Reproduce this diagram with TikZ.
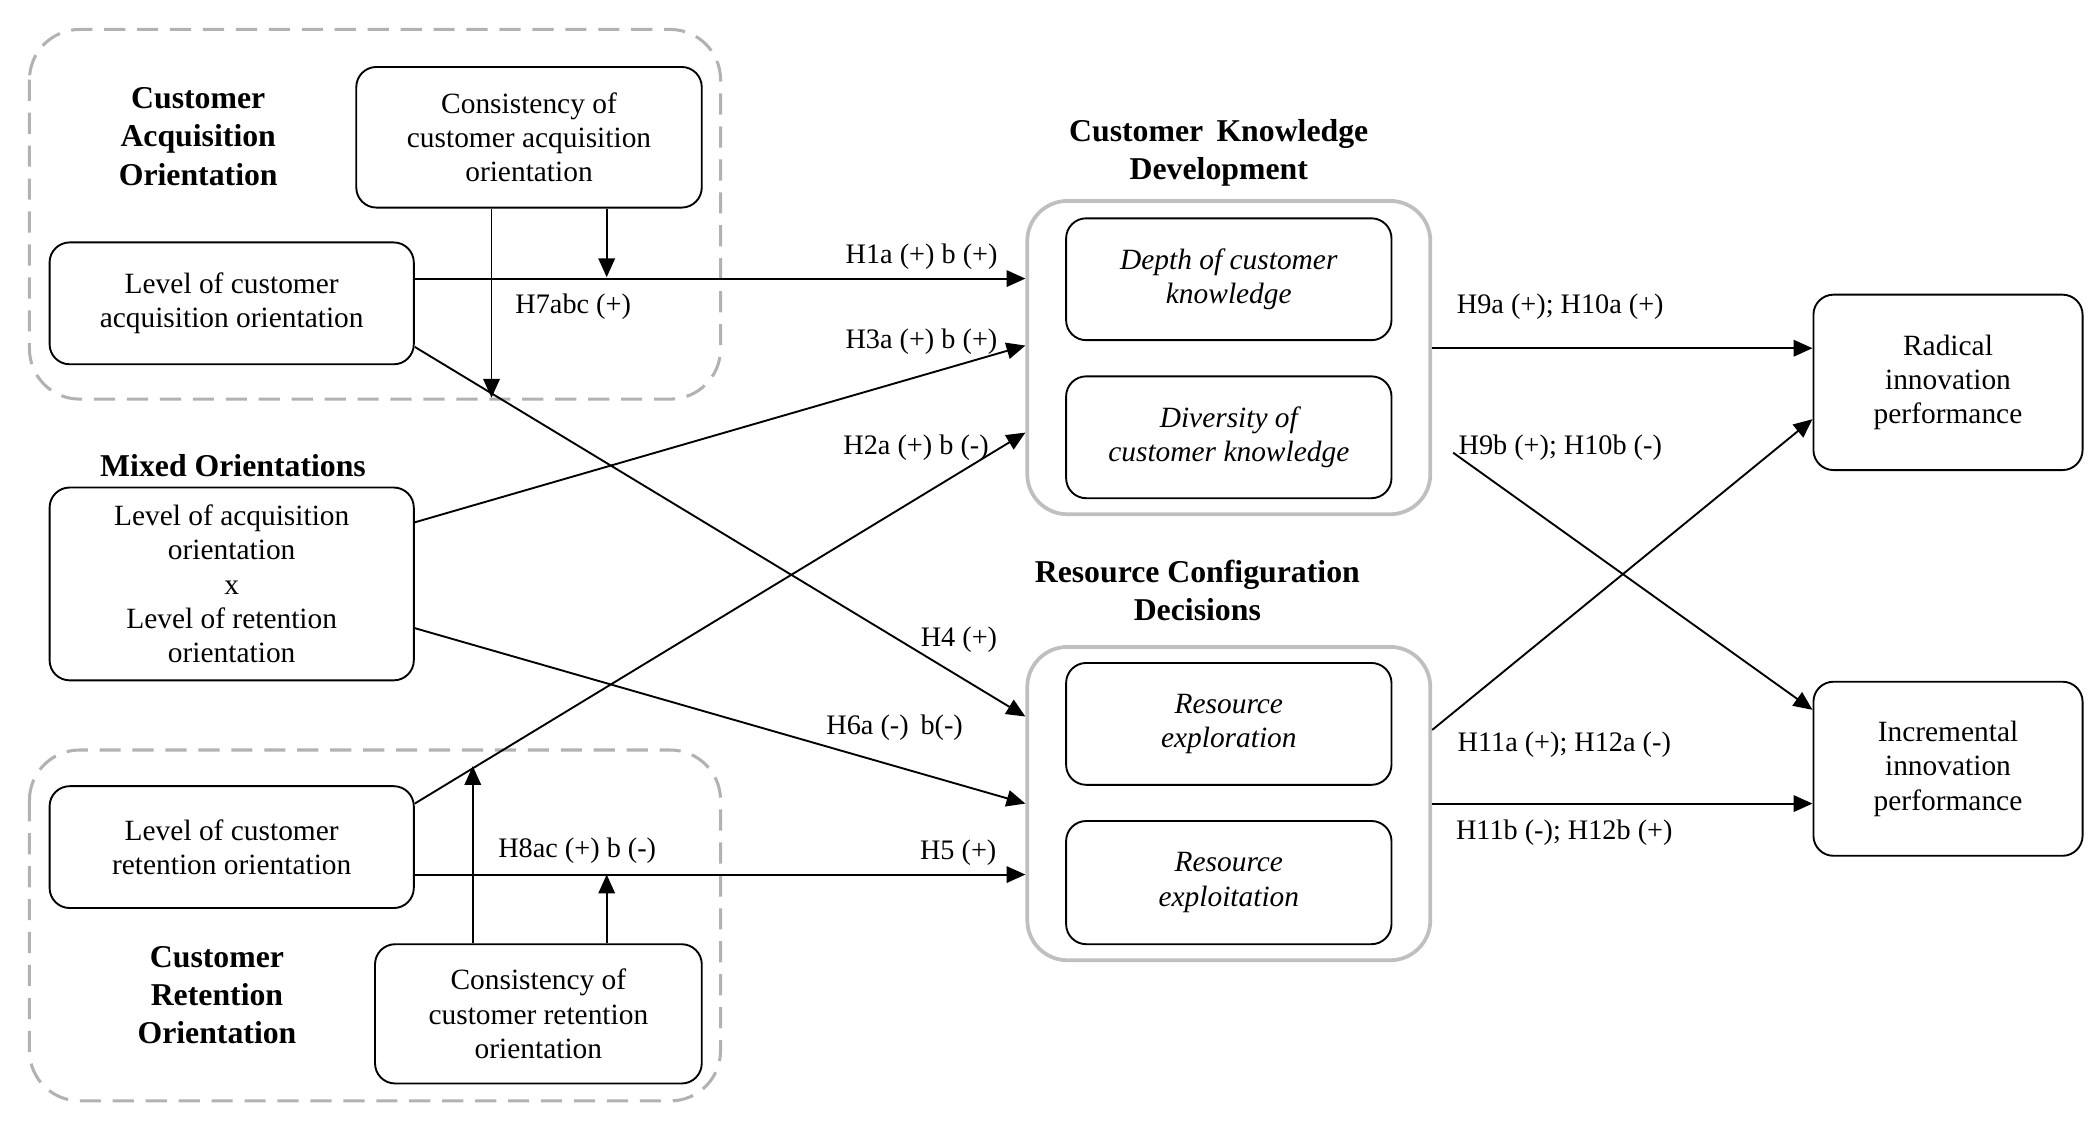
\documentclass[tikz,border=0pt]{standalone}
\usepackage{fontspec}
\setmainfont{Liberation Serif}
\usetikzlibrary{arrows.meta}
\begin{document}
\begin{tikzpicture}[x=0.02cm,y=-0.02cm,
  box/.style={draw,thick,rounded corners=0.3cm,align=center,inner sep=0pt,font=\fontsize{12.5}{14.6}\selectfont},
  outer/.style={draw=black!25,line width=1.6pt,rounded corners=0.6cm,inner sep=0pt},
  grp/.style={draw=black!30,line width=1.3pt,dash pattern=on 9pt off 5pt,rounded corners=0.75cm},
  ttl/.style={font=\fontsize{13.5}{16.2}\selectfont\bfseries,align=center},
  lab/.style={font=\fontsize{12}{14}\selectfont},
  arr/.style={thick,-{Triangle[length=8pt,width=7pt]}}]
\useasboundingbox (0,0) rectangle (1568,845);
\draw[grp] (22,22) rectangle (538,298);
\draw[grp] (22,560) rectangle (538,822);
\node[ttl] (tcao) at (148,102) {Customer\\Acquisition\\Orientation};
\node[ttl] (tmix) at (174,348) {Mixed Orientations};
\node[ttl] (tcro) at (162,743) {Customer\\Retention\\Orientation};
\node[ttl] (tckd) at (910,114) {Customer\, Knowledge\\Development};
\node[ttl] (trcd) at (894,441) {Resource Configuration\\Decisions};
\node[box,minimum width=5.16cm,minimum height=2.1cm] (cao) at (395,102.5) {Consistency of\\customer acquisition\\orientation};
\node[box,minimum width=5.44cm,minimum height=1.82cm] (la) at (173,226.5) {Level of customer\\acquisition orientation};
\node[box,minimum width=5.44cm,minimum height=2.88cm] (mix) at (173,436) {Level of acquisition\\orientation\\x\\Level of retention\\orientation};
\node[box,minimum width=5.44cm,minimum height=1.82cm] (lr) at (173,632.5) {Level of customer\\retention orientation};
\node[box,minimum width=4.88cm,minimum height=2.08cm] (crt) at (402,757) {Consistency of\\customer retention\\orientation};
\node[outer,minimum width=6.02cm,minimum height=4.68cm] (ckd) at (917.5,267) {};
\node[outer,minimum width=6.02cm,minimum height=4.68cm] (rcd) at (917.5,600) {};
\node[box,minimum width=4.86cm,minimum height=1.82cm,font=\fontsize{12.5}{14.6}\selectfont\itshape] (depth) at (917.5,208.5) {Depth of customer\\knowledge};
\node[box,minimum width=4.86cm,minimum height=1.82cm,font=\fontsize{12.5}{14.6}\selectfont\itshape] (div) at (917.5,326.5) {Diversity of\\customer knowledge};
\node[box,minimum width=4.86cm,minimum height=1.82cm,font=\fontsize{12.5}{14.6}\selectfont\itshape] (rexp) at (917.5,540.5) {Resource\\exploration};
\node[box,minimum width=4.86cm,minimum height=1.84cm,font=\fontsize{12.5}{14.6}\selectfont\itshape] (rexl) at (917.5,659) {Resource\\exploitation};
\node[box,minimum width=4.02cm,minimum height=2.62cm] (rad) at (1454.5,285.5) {Radical\\innovation\\performance};
\node[box,minimum width=4.02cm,minimum height=2.6cm] (inc) at (1454.5,574) {Incremental\\innovation\\performance};
% arrows
\coordinate (m7) at (367,297);
\coordinate (m8) at (353,572);
\draw[arr] (la.east |- 0,208) -- (ckd.west |- 0,208) node[lab,pos=0.83,above] {H1a (+) b (+)};
\draw[arr] (cao.south -| m7) -- (m7);
\draw[arr] (cao.south -| 453,0) -- (453,207);
\node[lab] at (428,229) {H7abc (+)};
\draw[arr] (la.east |- 0,259) -- (ckd.west |- 0,535);
\node[lab] at (716,478) {H4 (+)};
\draw[arr] (mix.east |- 0,390) -- (ckd.west |- 0,258);
\node[lab] at (688,255) {H3a (+) b (+)};
\draw[arr] (mix.east |- 0,469) -- (rcd.west |- 0,600);
\node[lab] at (668,543) {H6a (-)\, b(-)};
\draw[arr] (lr.east |- 0,600) -- (ckd.west |- 0,323);
\node[lab] at (684,334) {H2a (+) b (-)};
\draw[arr] (lr.east |- 0,653) -- (rcd.west |- 0,653) node[lab,pos=0.89,above] {H5 (+)};
\draw[arr] (crt.north -| m8) -- (m8);
\draw[arr] (crt.north -| 453,0) -- (453,653);
\node[lab] at (431,635) {H8ac (+) b (-)};
\draw[arr] (ckd.east |- 0,260) -- (rad.west |- 0,260);
\node[lab] at (1165,229) {H9a (+); H10a (+)};
\draw[arr] (1085,338) -- (inc.west |- 0,530);
\node[lab] at (1165,334) {H9b (+); H10b (-)};
\draw[arr] (rcd.east |- 0,545) -- (rad.west |- 0,313);
\node[lab] at (1168,556) {H11a (+); H12a (-)};
\draw[arr] (rcd.east |- 0,600) -- (inc.west |- 0,600);
\node[lab] at (1168,622) {H11b (-); H12b (+)};
\end{tikzpicture}
\end{document}
